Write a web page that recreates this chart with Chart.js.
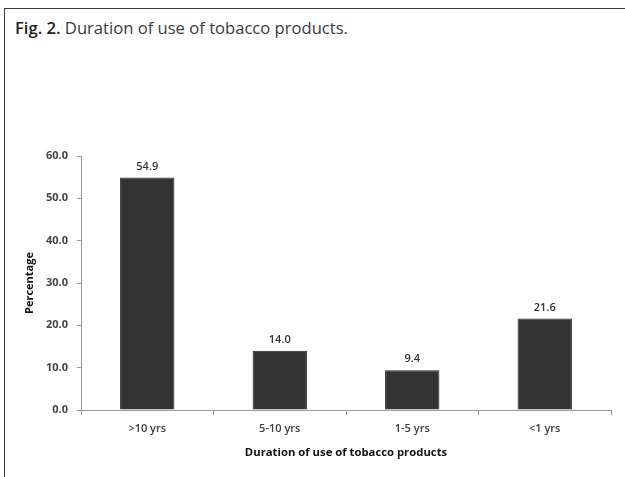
<!DOCTYPE html>
<html>
<head>
<meta charset="utf-8">
<script src="https://cdn.jsdelivr.net/npm/chart.js@4/dist/chart.umd.min.js"></script>
<style>
  html, body { margin: 0; padding: 0; background: #fff; }
  body { width: 625px; height: 477px; position: relative; overflow: hidden; }
  #frame { position: absolute; left: 4px; top: 8px; width: 640px; height: 500px;
           border-top: 1.5px solid #3a3a3a; border-left: 1.5px solid #3a3a3a; }
  #caption { position: absolute; left: 15px; top: 16px; font-family: "Open Sans", sans-serif;
             font-size: 16.6px; color: #3a3a3a; white-space: nowrap; }
  #caption b { font-weight: 600; color: #222; }
  #wrap { position: absolute; left: 0; top: 0; width: 625px; height: 477px; }
</style>
</head>
<body>
<div id="frame"></div>
<div id="caption"><b>Fig. 2.</b> Duration of use of tobacco products.</div>
<div id="wrap"><canvas id="mychart"></canvas></div>
<script>
// data
var categories = ['>10 yrs', '5-10 yrs', '1-5 yrs', '<1 yrs'];
var percentages = [54.9, 14.0, 9.4, 21.6];
var yTicks = [0, 10, 20, 30, 40, 50, 60];

// writes the value above each bar
var valueLabels = {
    id: 'valueLabels',
    afterDatasetsDraw: function (chart) {
        var ctx = chart.ctx;
        var meta = chart.getDatasetMeta(0);
        ctx.save();
        ctx.font = '600 11px "Open Sans"';
        ctx.fillStyle = '#333';
        ctx.textAlign = 'center';
        ctx.textBaseline = 'middle';
        meta.data.forEach(function (bar, i) {
            ctx.fillText(percentages[i].toFixed(1), bar.x, bar.y - 11);
        });
        ctx.restore();
    }
};

let ctx = document.getElementById('mychart').getContext('2d');

let mychart = new Chart(ctx, {
    type: 'bar',
    data: {
        labels: categories,
        datasets: [{
            data: percentages,
            backgroundColor: '#333333',
            borderColor: '#222222',
            borderWidth: 1,
            barPercentage: 0.41,
            categoryPercentage: 1.0
        }]
    },
    options: {
        responsive: true,
        maintainAspectRatio: false,
        animation: false,
        layout: {
            padding: { top: 156, right: 14, bottom: 0, left: 0 }
        },
        plugins: {
            legend: { display: false },
            tooltip: { enabled: false }
        },
        scales: {
            x: {
                afterFit: function (scale) { scale.height = 67; },
                grid: {
                    drawOnChartArea: false,
                    drawTicks: true,
                    tickLength: 5,
                    color: '#999'
                },
                border: { color: '#999', width: 1 },
                ticks: {
                    padding: 7,
                    color: '#3c3c3c',
                    font: { family: 'Open Sans', size: 11, weight: '600' }
                },
                title: {
                    display: true,
                    text: 'Duration of use of tobacco products',
                    color: '#111',
                    padding: { top: 0, bottom: 17 },
                    font: { family: 'Open Sans', size: 11.3, weight: 'bold' }
                }
            },
            y: {
                min: 0,
                max: 60,
                afterFit: function (scale) { scale.width = 81; },
                afterBuildTicks: function (scale) {
                    scale.ticks = yTicks.map(function (v) { return { value: v }; });
                },
                grid: {
                    drawOnChartArea: false,
                    drawTicks: true,
                    tickLength: 4,
                    color: '#999'
                },
                border: { color: '#999', width: 1 },
                ticks: {
                    padding: 9,
                    color: '#444',
                    font: { family: 'Open Sans', size: 11, weight: 'bold' },
                    callback: function (value) { return Number(value).toFixed(1); }
                },
                title: {
                    display: true,
                    text: 'Percentage',
                    color: '#111',
                    padding: { top: 23, bottom: 0 },
                    font: { family: 'Open Sans', size: 11, weight: 'bold' }
                }
            }
        }
    },
    plugins: [valueLabels]
});
</script>
</body>
</html>
